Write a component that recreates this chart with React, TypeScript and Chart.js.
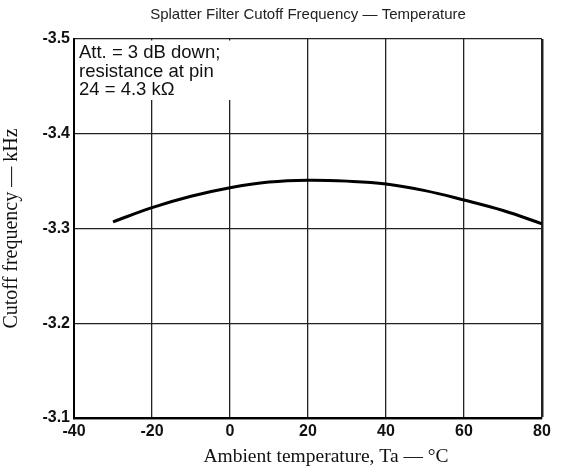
import React, { useEffect, useRef } from "react";
import { Chart, registerables } from "chart.js";

Chart.register(...registerables);

const TITLE = "Splatter Filter Cutoff Frequency \u2014 Temperature";
const X_TITLE = "Ambient temperature, Ta \u2014 \u00B0C";
const Y_TITLE = "Cutoff frequency \u2014 kHz";
const NOTE_LINES = ["Att. = 3 dB down;", "resistance at pin", "24 = 4.3 k\u03A9"];

const temps = [-30, -20, -10, 0, 10, 20, 30, 40, 50, 60, 70, 80];
const cutoff = [-3.307, -3.322, -3.334, -3.343, -3.349, -3.351, -3.350, -3.347, -3.340, -3.330, -3.319, -3.305];

const X_MIN = -40, X_MAX = 80, X_STEP = 20;
const Y_MIN = -3.5, Y_MAX = -3.1, Y_STEP = 0.1;

const notePlugin = {
  id: "note",
  beforeDatasetsDraw(chart: any) {
    const { ctx, chartArea, scales } = chart;
    const x0 = chartArea.left + 1.5;
    const x1 = scales.x.getPixelForValue(0) + 6;
    const y0 = chartArea.top + 1.5;
    const y1 = chartArea.top + 61;
    ctx.save();
    ctx.fillStyle = "#ffffff";
    ctx.fillRect(x0, y0, x1 - x0, y1 - y0);
    ctx.fillStyle = "#111";
    ctx.font = "18.5px 'Liberation Sans', Arial, sans-serif";
    ctx.textBaseline = "alphabetic";
    ctx.textAlign = "left";
    NOTE_LINES.forEach((t, i) => {
      ctx.fillText(t, chartArea.left + 5, chartArea.top + 19 + i * 18.5);
    });
    ctx.restore();
  },
  afterDraw(chart: any) {
    const { ctx, chartArea } = chart;
    ctx.save();
    ctx.fillStyle = "#111";
    ctx.font = "19.5px 'Liberation Serif', 'Times New Roman', serif";
    ctx.textAlign = "center";
    ctx.textBaseline = "middle";
    ctx.fillText(X_TITLE, (chartArea.left + chartArea.right) / 2 + 18, chart.height - 13);
    ctx.restore();
  },
};

export default function App() {
  const ref = useRef<HTMLCanvasElement>(null);
  useEffect(() => {
    if (!ref.current) return;
    const points = temps.map((t, i) => ({ x: t, y: cutoff[i] }));
    const chart = new Chart(ref.current, {
      type: "line",
      data: {
        datasets: [
          {
            data: points,
            borderColor: "#000",
            borderWidth: 3,
            pointRadius: 0,
            tension: 0.4,
            fill: false,
          },
        ],
      },
      options: {
        animation: false,
        responsive: false,
        maintainAspectRatio: false,
        layout: { padding: { left: 0, right: 19, top: 0, bottom: 0 } },
        plugins: {
          legend: { display: false },
          tooltip: { enabled: false },
          title: {
            display: true,
            text: TITLE,
            fullSize: false,
            color: "#222",
            font: { family: "'Liberation Sans', Arial, sans-serif", size: 15, weight: "normal", lineHeight: 1.2 },
            padding: { top: 6, bottom: 15 },
          },
        },
        scales: {
          x: {
            type: "linear",
            min: X_MIN,
            max: X_MAX,
            ticks: {
              stepSize: X_STEP,
              color: "#111",
              padding: 4,
              maxRotation: 0,
              font: { family: "'Liberation Sans', Arial, sans-serif", size: 16, weight: "bold" },
            },
            grid: {
              color: "#222",
              lineWidth: (c: any) => (c.index === 6 ? 2.5 : 1.3),
              drawTicks: false,
            },
            border: { display: true, color: "#000", width: 2 },
            title: { display: false },
            afterFit: (s: any) => {
              s.height = 52;
            },
          },
          y: {
            type: "linear",
            reverse: true,
            min: Y_MIN,
            max: Y_MAX,
            ticks: {
              stepSize: Y_STEP,
              color: "#111",
              padding: 4,
              callback: (v: any) => Number(v).toFixed(1),
              font: { family: "'Liberation Sans', Arial, sans-serif", size: 16, weight: "bold" },
            },
            grid: {
              color: "#222",
              lineWidth: (c: any) => (c.index === 0 ? 2.5 : 1.3),
              drawTicks: false,
            },
            border: { display: true, color: "#000", width: 2 },
            title: {
              display: true,
              text: Y_TITLE,
              color: "#111",
              font: { family: "'Liberation Serif', 'Times New Roman', serif", size: 20, lineHeight: 1.2 },
              padding: { top: 0, bottom: 0 },
            },
            afterFit: (s: any) => {
              s.width = 74;
            },
          },
        },
      },
      plugins: [notePlugin],
    });
    return () => chart.destroy();
  }, []);
  return (
    <div style={{ position: "fixed", left: 0, top: 0, width: 561, height: 470, background: "#fff" }}>
      <canvas ref={ref} width={561} height={470} style={{ width: 561, height: 470, display: "block" }} />
    </div>
  );
}
